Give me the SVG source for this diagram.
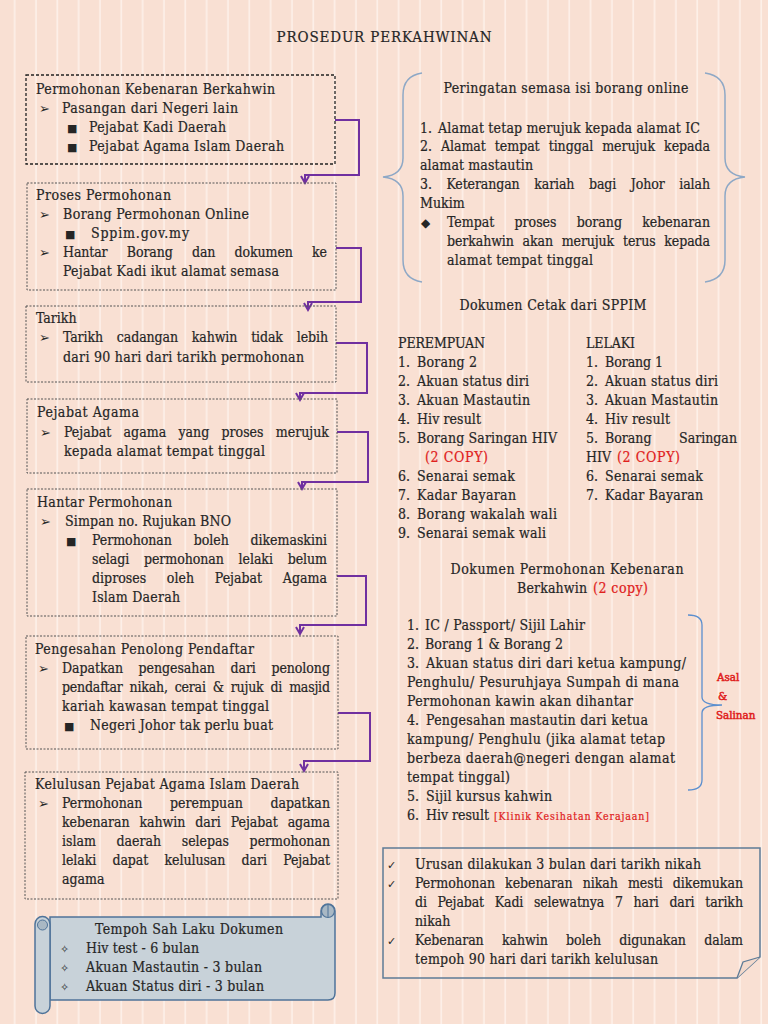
<svg xmlns="http://www.w3.org/2000/svg" width="768" height="1024" viewBox="0 0 768 1024">
<defs>
<pattern id="bg" width="21.33" height="10" patternUnits="userSpaceOnUse">
<rect width="21.33" height="10" fill="#f9e0d3"/>
<rect x="14" width="1.3" height="10" fill="#fff5ef"/>
</pattern>
<marker id="ah" markerWidth="12" markerHeight="12" refX="8" refY="5" orient="auto" markerUnits="userSpaceOnUse">
<path d="M1,1 L8,5 L1,9" fill="none" stroke="#7030a0" stroke-width="2"/>
</marker>
<style>
.t{font-family:"DejaVu Serif Condensed","DejaVu Serif","Liberation Serif",serif;font-stretch:condensed;font-size:14px;fill:#262626;stroke:#262626;stroke-width:0.2}
.e{text-anchor:end}
.bl{font-family:"DejaVu Sans",sans-serif;font-size:13px;fill:#262626}
.sq{font-family:"DejaVu Sans",sans-serif;font-size:11px;fill:#262626}
.r{fill:#e0201c;stroke:#e0201c}
.as{font-size:11.5px;stroke-width:0.5}
.box{fill:none;stroke:#555;stroke-width:1;stroke-dasharray:2 1.5}
.box1{fill:none;stroke:#222;stroke-width:1.3;stroke-dasharray:3 2}
.con{fill:none;stroke:#7030a0;stroke-width:2;marker-end:url(#ah)}
.brace{fill:none;stroke:#8ea8c6;stroke-width:1.5}
</style>
</defs>
<rect width="768" height="1024" fill="url(#bg)"/>

<text class="t" x="384" y="42" text-anchor="middle" textLength="215" style="font-size:15px">PROSEDUR PERKAHWINAN</text>

<g id="connectors">
<path class="con" d="M335,120 H359 V175 H305 V183"/>
<path class="con" d="M336,248 H361 V302 H308 V310"/>
<path class="con" d="M336,343 H367 V393 H300 V400"/>
<path class="con" d="M337,432 H368 V482 H302 V489"/>
<path class="con" d="M337,576 H366 V625 H300 V634"/>
<path class="con" d="M338,713 H370 V761 H304 V771"/>
</g>

<g id="n1">
<rect class="box1" x="26" y="75" width="309" height="89"/>
<text class="t" x="36" y="94" textLength="239">Permohonan Kebenaran Berkahwin</text>
<text class="bl" x="39" y="113">➢</text>
<text class="t" x="62" y="113" textLength="176">Pasangan dari Negeri lain</text>
<text class="sq" x="67" y="132">■</text>
<text class="t" x="89" y="132" textLength="137">Pejabat Kadi Daerah</text>
<text class="sq" x="67" y="151">■</text>
<text class="t" x="89" y="151" textLength="195">Pejabat Agama Islam Daerah</text>
</g>

<g id="n2">
<rect class="box" x="27" y="183" width="309" height="107"/>
<text class="t" x="36" y="200" textLength="135">Proses Permohonan</text>
<text class="bl" x="39" y="219">➢</text>
<text class="t" x="63" y="219" textLength="186">Borang Permohonan Online</text>
<text class="sq" x="65" y="238">■</text>
<text class="t" x="91" y="238" textLength="98">Sppim.gov.my</text>
<text class="bl" x="39" y="257">➢</text>
<text class="t" x="63" y="257" textLength="264" style="word-spacing:15.4px">Hantar Borang dan dokumen ke</text>
<text class="t" x="63" y="276" textLength="216">Pejabat Kadi ikut alamat semasa</text>
</g>

<g id="n3">
<rect class="box" x="26" y="306" width="310" height="76"/>
<text class="t" x="36" y="323">Tarikh</text>
<text class="bl" x="39" y="342">➢</text>
<text class="t" x="63" y="342" textLength="265" style="word-spacing:10px">Tarikh cadangan kahwin tidak lebih</text>
<text class="t" x="63" y="362" textLength="241">dari 90 hari dari tarikh permohonan</text>
</g>

<g id="n4">
<rect class="box" x="27" y="399" width="310" height="74"/>
<text class="t" x="37" y="417" textLength="102">Pejabat Agama</text>
<text class="bl" x="40" y="437">➢</text>
<text class="t" x="64" y="437" textLength="265" style="word-spacing:8.2px">Pejabat agama yang proses merujuk</text>
<text class="t" x="64" y="456" textLength="201">kepada alamat tempat tinggal</text>
</g>

<g id="n5">
<rect class="box" x="27" y="489" width="310" height="127"/>
<text class="t" x="37" y="507" textLength="135">Hantar Permohonan</text>
<text class="bl" x="40" y="526">➢</text>
<text class="t" x="65" y="526" textLength="166">Simpan no. Rujukan BNO</text>
<text class="sq" x="66" y="545">■</text>
<text class="t" x="92" y="545" textLength="235" style="word-spacing:17.8px">Permohonan boleh dikemaskini</text>
<text class="t" x="92" y="564" textLength="235" style="word-spacing:10.9px">selagi permohonan lelaki belum</text>
<text class="t" x="92" y="583" textLength="235" style="word-spacing:16.7px">diproses oleh Pejabat Agama</text>
<text class="t" x="92" y="602" textLength="88">Islam Daerah</text>
</g>

<g id="n6">
<rect class="box" x="26" y="636" width="312" height="113"/>
<text class="t" x="35" y="654" textLength="219">Pengesahan Penolong Pendaftar</text>
<text class="bl" x="38" y="673">➢</text>
<text class="t" x="62" y="673" textLength="268" style="word-spacing:11.6px">Dapatkan pengesahan dari penolong</text>
<text class="t" x="62" y="692" textLength="268" style="word-spacing:3.2px">pendaftar nikah, cerai &amp; rujuk di masjid</text>
<text class="t" x="62" y="711" textLength="207">kariah kawasan tempat tinggal</text>
<text class="sq" x="64" y="730">■</text>
<text class="t" x="90" y="730" textLength="183">Negeri Johor tak perlu buat</text>
</g>

<g id="n7">
<rect class="box" x="25" y="772" width="313" height="127"/>
<text class="t" x="35" y="789" textLength="264">Kelulusan Pejabat Agama Islam Daerah</text>
<text class="bl" x="38" y="808">➢</text>
<text class="t" x="62" y="808" textLength="268" style="word-spacing:23.5px">Permohonan perempuan dapatkan</text>
<text class="t" x="62" y="827" textLength="268" style="word-spacing:6px">kebenaran kahwin dari Pejabat agama</text>
<text class="t" x="62" y="846" textLength="268" style="word-spacing:16.6px">islam daerah selepas permohonan</text>
<text class="t" x="62" y="865" textLength="268" style="word-spacing:12.4px">lelaki dapat kelulusan dari Pejabat</text>
<text class="t" x="62" y="884">agama</text>
</g>

<g id="scroll">
<path d="M50,917 H321 V911 A7,7 0 0 1 335,911 V993 Q335,1000 328,1000 H50 Z" fill="#c8d2d9" stroke="#4f7399" stroke-width="1.5"/>
<circle cx="328" cy="911" r="6.5" fill="#a9b8c4" stroke="#4f7399" stroke-width="1.2"/>
<path d="M328,905 V917" stroke="#4f7399" stroke-width="1"/>
<path d="M35,924 A7.5,7.5 0 0 1 50,924 V1006 A7.5,7.5 0 0 1 35,1006 Z" fill="#c8d2d9" stroke="#4f7399" stroke-width="1.5"/>
<circle cx="42.5" cy="925" r="5" fill="#a9b8c4" stroke="#4f7399" stroke-width="1"/>
<text class="t" x="189" y="934" text-anchor="middle" textLength="188">Tempoh Sah Laku Dokumen</text>
<text class="sq" x="60" y="953">✧</text>
<text class="t" x="86" y="953" textLength="113">Hiv test - 6 bulan</text>
<text class="sq" x="60" y="972">✧</text>
<text class="t" x="86" y="972" textLength="176">Akuan Mastautin - 3 bulan</text>
<text class="sq" x="60" y="991">✧</text>
<text class="t" x="86" y="991" textLength="178">Akuan Status diri - 3 bulan</text>
</g>

<g id="peringatan">
<path class="brace" d="M422,73 Q403,76 403,95 V158 Q403,175 383,177 Q403,179 403,196 V260 Q403,279 422,282"/>
<path class="brace" d="M705,73 Q725,76 725,95 V158 Q725,175 745,177 Q725,179 725,196 V260 Q725,279 705,282"/>
<text class="t" x="566" y="93" text-anchor="middle" textLength="245">Peringatan semasa isi borang online</text>
<text class="t" x="420" y="133">1.</text>
<text class="t" x="438" y="133" textLength="262">Alamat tetap merujuk kepada alamat IC</text>
<text class="t" x="420" y="151" textLength="290" style="word-spacing:5.1px">2. Alamat tempat tinggal merujuk kepada</text>
<text class="t" x="420" y="170" textLength="113">alamat mastautin</text>
<text class="t" x="420" y="189" textLength="290" style="word-spacing:10.8px">3. Keterangan kariah bagi Johor ialah</text>
<text class="t" x="420" y="208">Mukim</text>
<text class="bl" x="421" y="227" style="font-size:12px">◆</text>
<text class="t" x="447" y="227" textLength="263" style="word-spacing:16.2px">Tempat proses borang kebenaran</text>
<text class="t" x="447" y="246" textLength="263" style="word-spacing:4.9px">berkahwin akan merujuk terus kepada</text>
<text class="t" x="447" y="265" textLength="146">alamat tempat tinggal</text>
</g>

<g id="cetak">
<text class="t" x="553" y="310" text-anchor="middle" textLength="187">Dokumen Cetak dari SPPIM</text>
<text class="t" x="398" y="348" textLength="87">PEREMPUAN</text>
<text class="t" x="398" y="367">1.</text><text class="t" x="417" y="367" textLength="60">Borang 2</text>
<text class="t" x="398" y="386">2.</text><text class="t" x="417" y="386" textLength="112">Akuan status diri</text>
<text class="t" x="398" y="405">3.</text><text class="t" x="417" y="405" textLength="113">Akuan Mastautin</text>
<text class="t" x="398" y="424">4.</text><text class="t" x="417" y="424" textLength="64">Hiv result</text>
<text class="t" x="398" y="443">5.</text><text class="t" x="417" y="443" textLength="140">Borang Saringan HIV</text>
<text class="t r" x="425" y="462" textLength="63">(2 COPY)</text>
<text class="t" x="398" y="481">6.</text><text class="t" x="417" y="481" textLength="98">Senarai semak</text>
<text class="t" x="398" y="500">7.</text><text class="t" x="417" y="500" textLength="99">Kadar Bayaran</text>
<text class="t" x="398" y="519">8.</text><text class="t" x="417" y="519" textLength="140">Borang wakalah wali</text>
<text class="t" x="398" y="538">9.</text><text class="t" x="417" y="538" textLength="129">Senarai semak wali</text>

<text class="t" x="586" y="348" textLength="49">LELAKI</text>
<text class="t" x="586" y="367">1.</text><text class="t" x="605" y="367" textLength="58">Borang 1</text>
<text class="t" x="586" y="386">2.</text><text class="t" x="605" y="386" textLength="113">Akuan status diri</text>
<text class="t" x="586" y="405">3.</text><text class="t" x="605" y="405" textLength="113">Akuan Mastautin</text>
<text class="t" x="586" y="424">4.</text><text class="t" x="605" y="424" textLength="65">Hiv result</text>
<text class="t" x="586" y="443">5.</text><text class="t" x="605" y="443">Borang</text><text class="t e" x="737" y="443">Saringan</text>
<text class="t" x="586" y="462">HIV</text><text class="t r" x="617" y="462" textLength="63">(2 COPY)</text>
<text class="t" x="586" y="481">6.</text><text class="t" x="605" y="481" textLength="98">Senarai semak</text>
<text class="t" x="586" y="500">7.</text><text class="t" x="605" y="500" textLength="98">Kadar Bayaran</text>
</g>

<g id="permohonan">
<text class="t" x="567" y="574" text-anchor="middle" textLength="233">Dokumen Permohonan Kebenaran</text>
<text class="t" x="517" y="593" textLength="70">Berkahwin</text><text class="t r" x="593" y="593" textLength="55">(2 copy)</text>
<path d="M688,615 Q702,615 702,625 V697 Q702,705 722,705 Q702,705 702,713 V780 Q702,790 688,790" fill="none" stroke="#5b8fcf" stroke-width="1.3"/>
<text class="t r as" x="717" y="681">Asal</text>
<text class="t r as" x="718" y="700">&amp;</text>
<text class="t r as" x="716" y="719">Salinan</text>
<text class="t" x="407" y="630">1.</text><text class="t" x="425" y="630" textLength="160">IC / Passport/ Sijil Lahir</text>
<text class="t" x="407" y="649">2.</text><text class="t" x="425" y="649" textLength="138">Borang 1 &amp; Borang 2</text>
<text class="t" x="407" y="668">3.</text><text class="t" x="426" y="668" textLength="260">Akuan status diri dari ketua kampung/</text>
<text class="t" x="407" y="687" textLength="272">Penghulu/ Pesuruhjaya Sumpah di mana</text>
<text class="t" x="407" y="706" textLength="226">Permohonan kawin akan dihantar</text>
<text class="t" x="407" y="725">4.</text><text class="t" x="426" y="725" textLength="222">Pengesahan mastautin dari ketua</text>
<text class="t" x="407" y="744" textLength="258">kampung/ Penghulu (jika alamat tetap</text>
<text class="t" x="407" y="763" textLength="268">berbeza daerah@negeri dengan alamat</text>
<text class="t" x="407" y="782" textLength="103">tempat tinggal)</text>
<text class="t" x="407" y="801">5.</text><text class="t" x="426" y="801" textLength="126">Sijil kursus kahwin</text>
<text class="t" x="407" y="820">6.</text><text class="t" x="426" y="820" textLength="63">Hiv result</text>
<text class="t r" x="494" y="820" style="font-size:10.5px" textLength="155">[Klinik Kesihatan Kerajaan]</text>
</g>

<g id="nota">
<path d="M383,848 H760 V957 L737,978 H383 Z" fill="none" stroke="#5d7b97" stroke-width="1.5"/>
<path d="M760,957 L743,962 L737,978" fill="#f3d9cb" stroke="#5d7b97" stroke-width="1.3"/>
<text class="sq" x="387" y="869">✓</text>
<text class="t" x="415" y="869" textLength="286">Urusan dilakukan 3 bulan dari tarikh nikah</text>
<text class="sq" x="387" y="888">✓</text>
<text class="t" x="415" y="888" textLength="328" style="word-spacing:6.1px">Permohonan kebenaran nikah mesti dikemukan</text>
<text class="t" x="415" y="907" textLength="328" style="word-spacing:6.8px">di Pejabat Kadi selewatnya 7 hari dari tarikh</text>
<text class="t" x="415" y="926">nikah</text>
<text class="sq" x="387" y="945">✓</text>
<text class="t" x="415" y="945" textLength="328" style="word-spacing:14.4px">Kebenaran kahwin boleh digunakan dalam</text>
<text class="t" x="415" y="964" textLength="243">tempoh 90 hari dari tarikh kelulusan</text>
</g>
</svg>
